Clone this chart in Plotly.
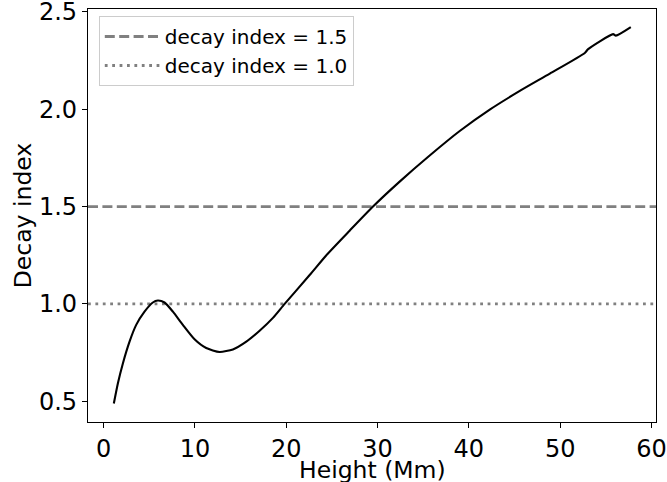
import plotly.graph_objects as go

# Data
height_mm = [1.11, 1.55, 2.10, 2.83, 3.56, 4.47, 5.38, 5.93, 6.66, 7.58, 8.67, 9.95,
             11.23, 12.69, 14.15, 15.62, 17.08, 18.54, 19.82, 22.56, 24.39, 26.94,
             29.5, 32.42, 35.71, 39.0, 42.29, 45.58, 48.87, 52.7, 53.07, 55.8, 56.1, 57.74]
decay_index = [0.488, 0.591, 0.694, 0.806, 0.892, 0.960, 1.007, 1.017, 1.007, 0.960,
               0.892, 0.818, 0.773, 0.753, 0.766, 0.806, 0.862, 0.928, 1.0, 1.148,
               1.250, 1.376, 1.5, 1.628, 1.762, 1.888, 1.998, 2.094, 2.183, 2.289, 2.309,
               2.386, 2.378, 2.422]

ref_levels = [1.5, 1.0]
ref_names = ["decay index = 1.5", "decay index = 1.0"]

x_title = "Height (Mm)"
y_title = "Decay index"

x_range = [-1.72, 60.5]
y_range = [0.393, 2.515]

FONT = "DejaVu Sans"

fig = go.Figure()

fig.add_trace(go.Scatter(
    x=x_range, y=[ref_levels[0]] * 2, mode="lines", name=ref_names[0],
    line=dict(color="#808080", width=2.8, dash="10px,4.4px"),
))
fig.add_trace(go.Scatter(
    x=x_range, y=[ref_levels[1]] * 2, mode="lines", name=ref_names[1],
    line=dict(color="#808080", width=2.8, dash="2.8px,4.6px"),
))
fig.add_trace(go.Scatter(
    x=height_mm, y=decay_index, mode="lines", showlegend=False,
    line=dict(color="black", width=2.1, shape="spline", smoothing=0.6),
))

fig.update_layout(
    width=667, height=482,
    margin=dict(l=88, r=11, t=9, b=60),
    paper_bgcolor="white", plot_bgcolor="white",
    font=dict(family=FONT, size=24, color="black"),
    legend=dict(
        x=0.019, y=0.983, xanchor="left", yanchor="top",
        bgcolor="rgba(255,255,255,0.8)", bordercolor="#cccccc", borderwidth=1,
        font=dict(size=20, family=FONT), itemwidth=55,
    ),
    showlegend=True,
)
fig.add_annotation(
    text=x_title, xref="paper", yref="paper", x=0.5, y=0,
    xanchor="center", yanchor="middle", yshift=-47.5, showarrow=False,
    font=dict(size=23.5, family=FONT, color="black"),
)
fig.update_xaxes(
    range=x_range, tickvals=[0, 10, 20, 30, 40, 50, 60], automargin=False,
    ticklabeloverflow="allow",
    showgrid=False, zeroline=False, showline=True, linecolor="black", linewidth=1.1,
    mirror=True, ticks="outside", ticklen=5, tickwidth=1.1, tickcolor="black",
    tickfont=dict(size=24, family=FONT),
)
fig.update_yaxes(
    range=y_range, tickvals=[0.5, 1.0, 1.5, 2.0, 2.5], ticktext=["0.5", "1.0", "1.5", "2.0", "2.5"],
    automargin=False, ticklabeloverflow="allow",
    showgrid=False, zeroline=False, showline=True, linecolor="black", linewidth=1.1,
    mirror=True, ticks="outside", ticklen=5, tickwidth=1.1, tickcolor="black",
    tickfont=dict(size=24, family=FONT),
    title=dict(text=y_title, font=dict(size=23.5, family=FONT), standoff=0),
)

fig.write_html(
    "out.html",
    config={"displayModeBar": False},
    post_script="document.body.style.margin='0';document.body.style.padding='0';",
)
